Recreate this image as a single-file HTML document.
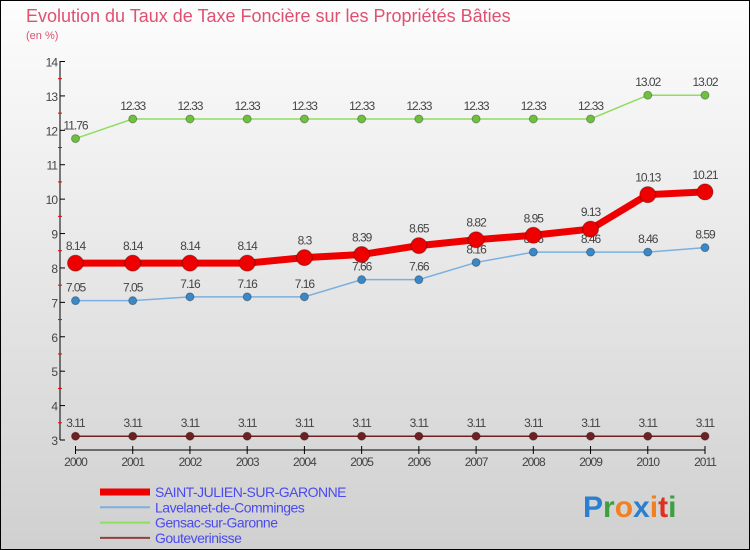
<!DOCTYPE html>
<html><head><meta charset="utf-8"><style>
body{margin:0}
#wrap{width:750px;height:550px;position:relative;font-family:"Liberation Sans",sans-serif;background:linear-gradient(#fdfdfd,#d0d0d0);box-sizing:border-box;border:1px solid #000}
</style></head><body>
<div id="wrap">
<svg id="svg" width="750" height="550" style="position:absolute;left:-1px;top:-1px">
<text x="26" y="22" font-size="18" fill="#e05070">Evolution du Taux de Taxe Foncière sur les Propriétés Bâties</text>
<text x="26" y="39" font-size="11" fill="#e05070">(en %)</text>
<g id="axes"></g><g id="series"></g><g id="legend"></g>
<text x="583" y="517" font-size="30" font-weight="bold"><tspan fill="#2a7fd0">P</tspan><tspan fill="#3aa040">r</tspan><tspan fill="#f08020">o</tspan><tspan fill="#2a7fd0">x</tspan><tspan fill="#f08020">i</tspan><tspan fill="#e03020">t</tspan><tspan fill="#3aa040">i</tspan></text>
</svg></div>
<script>
const years=[2000,2001,2002,2003,2004,2005,2006,2007,2008,2009,2010,2011];
const yTicks=[3,4,5,6,7,8,9,10,11,12,13,14];
const saint=[8.14,8.14,8.14,8.14,8.3,8.39,8.65,8.82,8.95,9.13,10.13,10.21];
const lavelanet=[7.05,7.05,7.16,7.16,7.16,7.66,7.66,8.16,8.46,8.46,8.46,8.59];
const gensac=[11.76,12.33,12.33,12.33,12.33,12.33,12.33,12.33,12.33,12.33,13.02,13.02];
const goute=[3.11,3.11,3.11,3.11,3.11,3.11,3.11,3.11,3.11,3.11,3.11,3.11];
const NS="http://www.w3.org/2000/svg";
const X=i=>75.5+i*(705-75.5)/11, Y=v=>440-(v-3)*(440-61.5)/11;
function mk(t,a,p,txt){const e=document.createElementNS(NS,t);for(const k in a)e.setAttribute(k,a[k]);if(txt!=null)e.textContent=txt;p.appendChild(e);return e;}
const ax=document.getElementById('axes');
let e=mk('line',{x1:60,y1:61,x2:60,y2:440,stroke:'#000'},ax);

yTicks.forEach(v=>{mk('line',{x1:60,y1:Y(v),x2:65,y2:Y(v),stroke:'#000'},ax);
 if(v<14)mk('line',{x1:58,y1:Y(v+0.5),x2:62,y2:Y(v+0.5),stroke:'#e00'},ax);
 e=mk('text',{x:57,y:Y(v)+5,'font-size':12,fill:'#444','text-anchor':'end','letter-spacing':'-1'},ax,v);
 });
e=mk('line',{x1:75.5,y1:450,x2:705,y2:450,stroke:'#000'},ax);

years.forEach((y,i)=>{mk('line',{x1:X(i),y1:446,x2:X(i),y2:454,stroke:'#000'},ax);
 e=mk('text',{x:X(i),y:466,'font-size':12,fill:'#444','text-anchor':'middle','letter-spacing':'-1'},ax,y);
 });
const S=document.getElementById('series');
const defs=[[goute,'#702020','#702020',1.5,4,'gouteverinisse'],[gensac,'#90dd60','#70c040',1.5,4,'gensac'],[lavelanet,'#7ab0e0','#3a88c8',1.5,4,'lavelanet'],[saint,'#ee0000','#ee0000',7,8,'saint-julien']];
defs.forEach(([d,lc,pc,w,r,n])=>{
 const g=mk('g',{},S);
 mk('polyline',{points:d.map((v,i)=>X(i)+','+Y(v)).join(' '),fill:'none',stroke:lc,'stroke-width':w},g);
 d.forEach((v,i)=>{e=mk('circle',{cx:X(i),cy:Y(v),r:r,fill:pc,stroke:'rgba(0,0,0,0.3)'},g);
  
  mk('text',{x:X(i),y:Y(v)-(r+5),'font-size':12,fill:'#444','text-anchor':'middle','letter-spacing':'-1'},g,v);});
});
const L=document.getElementById('legend');
[['SAINT-JULIEN-SUR-GARONNE','#ee0000',7],['Lavelanet-de-Comminges','#7ab0e0',2],['Gensac-sur-Garonne','#90dd60',2],['Gouteverinisse','#904040',2]].forEach(([t,c,w],k)=>{
 const y=492+k*15.3;const g=mk('g',{},L);
 mk('line',{x1:100,y1:y,x2:150,y2:y,stroke:c,'stroke-width':w},g);
 mk('text',{x:155,y:y+5,'font-size':14,fill:'#4a4aee','letter-spacing':'-0.5'},g,t);});
</script></body></html>
